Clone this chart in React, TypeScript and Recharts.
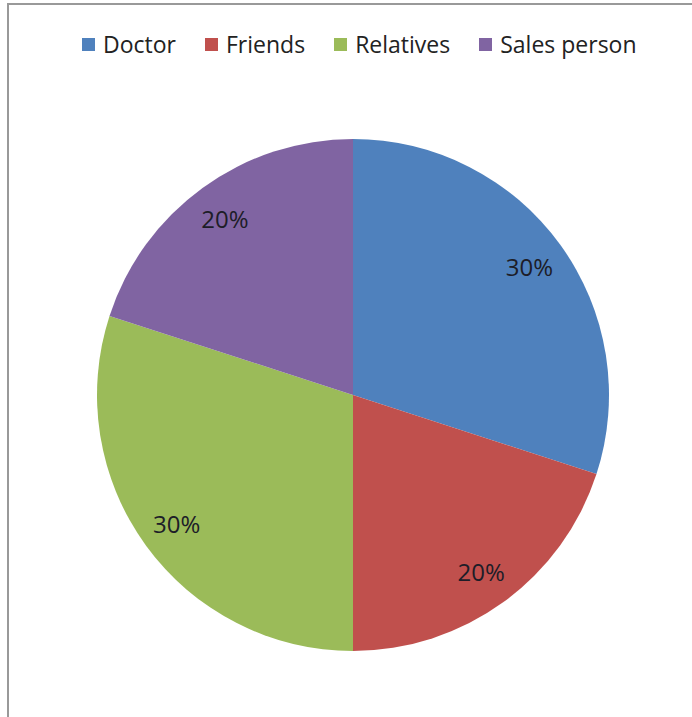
import { PieChart, Pie, Cell } from 'recharts';

const categories = ['Doctor', 'Friends', 'Relatives', 'Sales person'];
const shares = [30, 20, 30, 20];
const colors = ['#4F81BD', '#C0504D', '#9BBB59', '#8064A2'];

const data = categories.map((name, i) => ({ name, value: shares[i] }));

const RADIAN = Math.PI / 180;
const FONT = '"Open Sans", sans-serif';

const renderLabel = (props: any) => {
  const { cx, cy, midAngle, percent } = props;
  const r = 218;
  const x = cx + r * Math.cos(-midAngle * RADIAN);
  const y = cy + r * Math.sin(-midAngle * RADIAN);
  return (
    <text
      x={x}
      y={y}
      fill="#1d1d28"
      textAnchor="middle"
      dominantBaseline="central"
      fontSize={24}
      fontFamily={FONT}
    >
      {`${Math.round(percent * 100)}%`}
    </text>
  );
};

const ChartLegend = () => (
  <div
    style={{
      position: 'absolute',
      left: 82,
      top: 28,
      display: 'flex',
      alignItems: 'center',
      fontFamily: FONT,
      fontSize: 23,
      color: '#222',
      whiteSpace: 'nowrap',
    }}
  >
    {categories.map((name, i) => (
      <div key={name} style={{ display: 'flex', alignItems: 'center', marginRight: 29 }}>
        <span style={{ display: 'inline-block', width: 13, height: 13, background: colors[i], marginRight: 8 }} />
        <span>{name}</span>
      </div>
    ))}
  </div>
);

const App = () => (
  <div style={{ position: 'absolute', left: 0, top: 0, width: 692, height: 717, background: '#fff', overflow: 'hidden' }}>
    <div
      style={{
        position: 'absolute',
        left: 7,
        top: 3,
        width: 700,
        height: 730,
        borderLeft: '2px solid #999',
        borderTop: '2px solid #999',
      }}
    />
    <div style={{ position: 'absolute', left: 0, top: 0 }}>
      <PieChart width={692} height={717} margin={{ top: 0, right: 0, bottom: 0, left: 0 }}>
        <Pie
          data={data}
          dataKey="value"
          nameKey="name"
          cx={353}
          cy={395}
          outerRadius={256}
          startAngle={90}
          endAngle={-270}
          stroke="none"
          label={renderLabel}
          labelLine={false}
          isAnimationActive={false}
        >
          {data.map((d, i) => (
            <Cell key={d.name} fill={colors[i]} />
          ))}
        </Pie>
      </PieChart>
    </div>
    <ChartLegend />
  </div>
);

export default App;
